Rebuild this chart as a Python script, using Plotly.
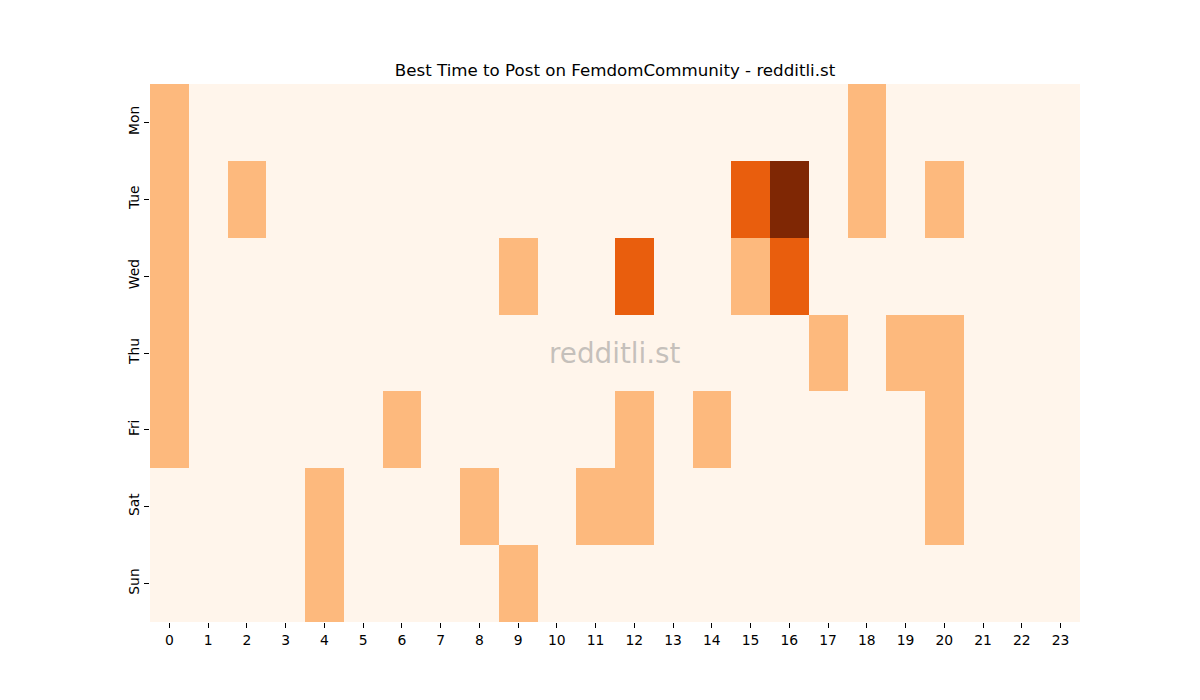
import plotly.graph_objects as go

days = ["Mon", "Tue", "Wed", "Thu", "Fri", "Sat", "Sun"]
hours = list(range(24))

# value per (day, hour); unspecified cells are 0
mon = [1,0,0,0,0,0,0,0,0,0,0,0,0,0,0,0,0,0,1,0,0,0,0,0]
tue = [1,0,1,0,0,0,0,0,0,0,0,0,0,0,0,2,3,0,1,0,1,0,0,0]
wed = [1,0,0,0,0,0,0,0,0,1,0,0,2,0,0,1,2,0,0,0,0,0,0,0]
thu = [1,0,0,0,0,0,0,0,0,0,0,0,0,0,0,0,0,1,0,1,1,0,0,0]
fri = [1,0,0,0,0,0,1,0,0,0,0,0,1,0,1,0,0,0,0,0,1,0,0,0]
sat = [0,0,0,0,1,0,0,0,1,0,0,1,1,0,0,0,0,0,0,0,1,0,0,0]
sun = [0,0,0,0,1,0,0,0,0,1,0,0,0,0,0,0,0,0,0,0,0,0,0,0]
z = [mon, tue, wed, thu, fri, sat, sun]

oranges = [
    [0.0, "#fff5eb"], [0.125, "#fee6ce"], [0.25, "#fdd0a2"], [0.375, "#fdae6b"],
    [0.5, "#fd8d3c"], [0.625, "#f16913"], [0.75, "#d94801"], [0.875, "#a63603"],
    [1.0, "#7f2704"],
]

fig = go.Figure(go.Heatmap(
    z=z, x=hours, y=days, colorscale=oranges, zmin=0, zmax=3,
    showscale=False, xgap=0, ygap=0, hoverongaps=False,
))

font = dict(family="DejaVu Sans", size=13.9, color="black")
fig.update_layout(
    width=1200, height=700,
    margin=dict(l=150, r=120, t=84, b=78),
    paper_bgcolor="white", plot_bgcolor="white",
    font=font,
    title=dict(text="Best Time to Post on FemdomCommunity - redditli.st",
               xref="paper", x=0.5, xanchor="center", y=1 - 70/700, yanchor="middle",
               font=dict(family="DejaVu Sans", size=16.67, color="black")),
    xaxis=dict(tickmode="array", tickvals=hours, ticktext=[str(h) for h in hours],
               ticks="outside", ticklen=4.9, tickcolor="black", showgrid=False,
               zeroline=False, showline=False, range=[-0.5, 23.5], fixedrange=True,
               tickfont=dict(size=13.9)),
    yaxis=dict(tickmode="array", tickvals=days, ticktext=days, autorange="reversed",
               ticks="outside", ticklen=4.9, tickcolor="black", tickangle=-90,
               showgrid=False, zeroline=False, showline=False,
               tickfont=dict(size=13.9)),
    annotations=[dict(text="redditli.st", x=0.5, y=0.5, xref="paper", yref="paper",
                      showarrow=False, xanchor="center", yanchor="middle",
                      font=dict(family="DejaVu Sans", size=27.8, color="rgba(140,140,140,0.5)"))],
)

fig.write_html("out.html")
